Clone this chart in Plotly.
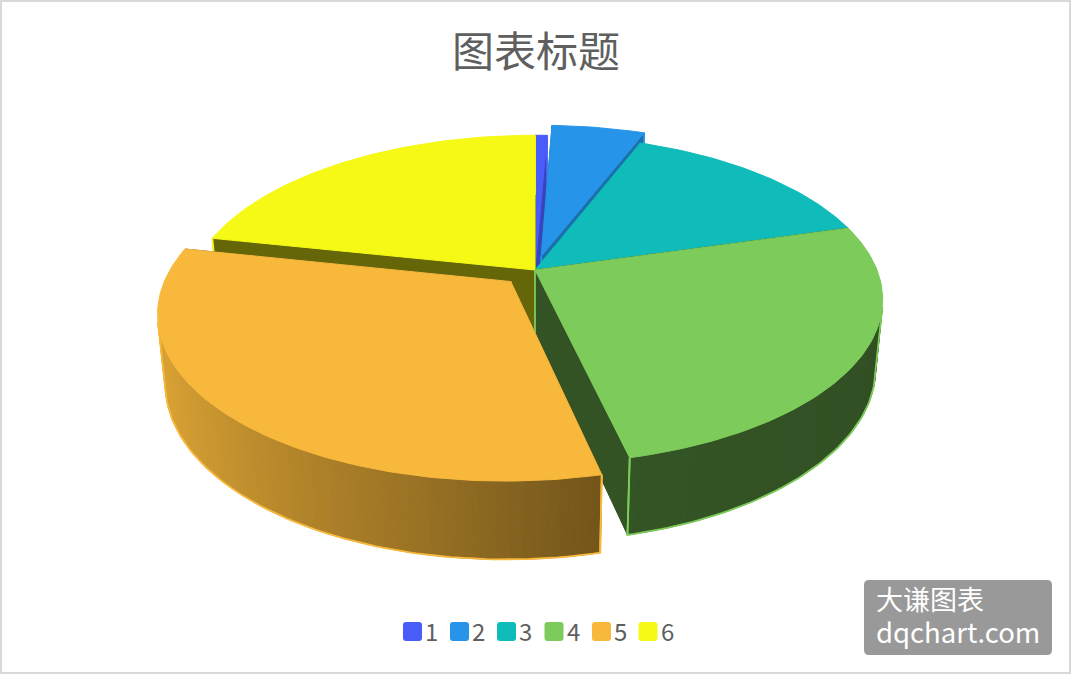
import numpy as np
import plotly.graph_objects as go

# chart data
categories = ["1", "2", "3", "4", "5", "6"]
values = [0.66, 5.2, 14.7, 25.8, 32.0, 21.7]
explode = [0, 0.09, 0, 0, 0.1, 0]
title_text = "图表标题"

colors = ["#4a5cf8", "#2694e8", "#0fbcb9", "#7dcb5a", "#f7b83b", "#f5f915"]
wall_shade = [(0.7, 0.7), (0.7, 0.7), (0.7, 0.7), (0.39, 0.42), (0.47, 0.9), (0.41, 0.41)]
radial_shade = [0.75, 0.75, 0.75, 0.41, 0.47, 0.41]
draw_order = [0, 1, 2, 5, 3, 4]

# perspective of the disc, in page pixels
CX, CY = 535, 270
RX, RY = 342, 159
HEIGHT = 69
K, M = 0.18, 0.02
W, H = 1071, 674
GREY = "#5f5f5f"
FONT = "Noto Sans CJK SC"


def project(u, v, z):
    w = 1 - K*v + M*z
    return CX + RX*u/w, CY + (RY*v + HEIGHT*z)/w


def shade(color, f):
    r, g, b = [int(color[i:i+2], 16) for i in (1, 3, 5)]
    return "rgb(%d,%d,%d)" % (r*f, g*f, b*f)


def rounded(x0, y0, x1, y1, r):
    return (f"M{x0+r},{y0} L{x1-r},{y0} Q{x1},{y0} {x1},{y0+r} L{x1},{y1-r} Q{x1},{y1} {x1-r},{y1} "
            f"L{x0+r},{y1} Q{x0},{y1} {x0},{y1-r} L{x0},{y0+r} Q{x0},{y0} {x0+r},{y0} Z")


def poly(fig, xs, ys, color, width=1):
    fig.add_trace(go.Scatter(x=xs, y=ys, mode="lines", fill="toself", fillcolor=color,
                             line=dict(color=color, width=width),
                             hoverinfo="skip", showlegend=False))


def edge(fig, xs, ys, color):
    fig.add_trace(go.Scatter(x=xs, y=ys, mode="lines", line=dict(color=color, width=1.8),
                             hoverinfo="skip", showlegend=False))


def faces_viewer(xs, ys):
    # the screen y runs downwards, so a strip that faces us has a negative area
    area = sum(xs[j]*ys[(j+1) % 4] - xs[(j+1) % 4]*ys[j] for j in range(4))
    return area < 0


def add_slice(fig, a0, a1, e, color, wall, radial):
    mid = (a0 + a1)/2
    ou, ov = e*np.sin(mid), -e*np.cos(mid)
    ang = np.linspace(a0, a1, max(3, int(np.degrees(a1 - a0)) + 2))
    us, vs = ou + np.sin(ang), ov - np.cos(ang)
    topx, topy = project(us, vs, 0)
    botx, boty = project(us, vs, 1)
    ax, ay = project(ou, ov, 0)
    bx, by = project(ou, ov, 1)

    # the two straight cut faces
    rad = shade(color, radial)
    poly(fig, [ax, topx[0], botx[0], bx, ax], [ay, topy[0], boty[0], by, ay], rad)
    poly(fig, [ax, topx[-1], botx[-1], bx, ax], [ay, topy[-1], boty[-1], by, ay], rad)
    edge(fig, [ax, bx], [ay, by], color)

    # rim, split in strips to get the gradient
    raw = np.sin(ang)
    span = max(raw.max() - raw.min(), 1e-6)
    front = []
    for i in range(len(ang) - 1):
        xs = [topx[i], topx[i+1], botx[i+1], botx[i]]
        ys = [topy[i], topy[i+1], boty[i+1], boty[i]]
        if not faces_viewer(xs, ys):
            continue
        front.append(i)
        t = (raw[i] - raw.min())/span
        f = wall[1] + (wall[0] - wall[1])*t
        poly(fig, xs + xs[:1], ys + ys[:1], shade(color, f))

    # thin edges in the slice colour, only where the rim can be seen
    if front:
        idx = front + [front[-1] + 1]
        edge(fig, [topx[idx[0]]] + list(botx[idx]) + [topx[idx[-1]]],
             [topy[idx[0]]] + list(boty[idx]) + [topy[idx[-1]]], color)
    edge(fig, [topx[0], botx[0], None, topx[-1], botx[-1]],
         [topy[0], boty[0], None, topy[-1], boty[-1]], color)

    # top face
    poly(fig, [ax] + list(topx) + [ax], [ay] + list(topy) + [ay], color)


fig = go.Figure()

total = sum(values)
edges = np.concatenate([[0], np.cumsum(values)])/total*2*np.pi
for i in draw_order:
    add_slice(fig, edges[i], edges[i+1], explode[i], colors[i], wall_shade[i], radial_shade[i])

shapes = [dict(type="rect", x0=1, y0=1, x1=W-1, y1=H-1, line=dict(color="#d9d9d9", width=2), layer="below")]
annotations = []

# legend
legend_x = [403, 450, 497, 544.5, 592, 638.5]
for name, color, lx in zip(categories, colors, legend_x):
    shapes.append(dict(type="path", path=rounded(lx, 622, lx+19, 641, 3), fillcolor=color, line=dict(width=0)))
    annotations.append(dict(x=lx+20, y=630, text=name, showarrow=False, xanchor="left", yanchor="middle",
                            font=dict(family=FONT, size=24, color=GREY)))

# watermark box
shapes.append(dict(type="path", path=rounded(864, 580, 1052, 655, 5), fillcolor="#999999", line=dict(width=0)))
annotations.append(dict(x=874, y=615, showarrow=False, xanchor="left", yanchor="middle", align="left",
                        text='<span style="font-size:27px">大谦图表</span><br>'
                             '<span style="font-size:27.5px">dqchart.com</span>',
                        font=dict(family=FONT, size=25, color="white")))

fig.update_layout(
    width=W, height=H,
    margin=dict(l=0, r=0, t=0, b=0),
    paper_bgcolor="white", plot_bgcolor="white",
    showlegend=False,
    title=dict(text=title_text, x=536/W, xanchor="center", y=1 - 52/H, yanchor="middle",
               font=dict(family=FONT, size=42, color=GREY)),
    xaxis=dict(range=[0, W], visible=False, fixedrange=True),
    yaxis=dict(range=[H, 0], visible=False, fixedrange=True),
    shapes=shapes,
    annotations=annotations,
)

fig.write_html("out.html", config=dict(displayModeBar=False),
               post_script="document.body.style.margin='0';")
